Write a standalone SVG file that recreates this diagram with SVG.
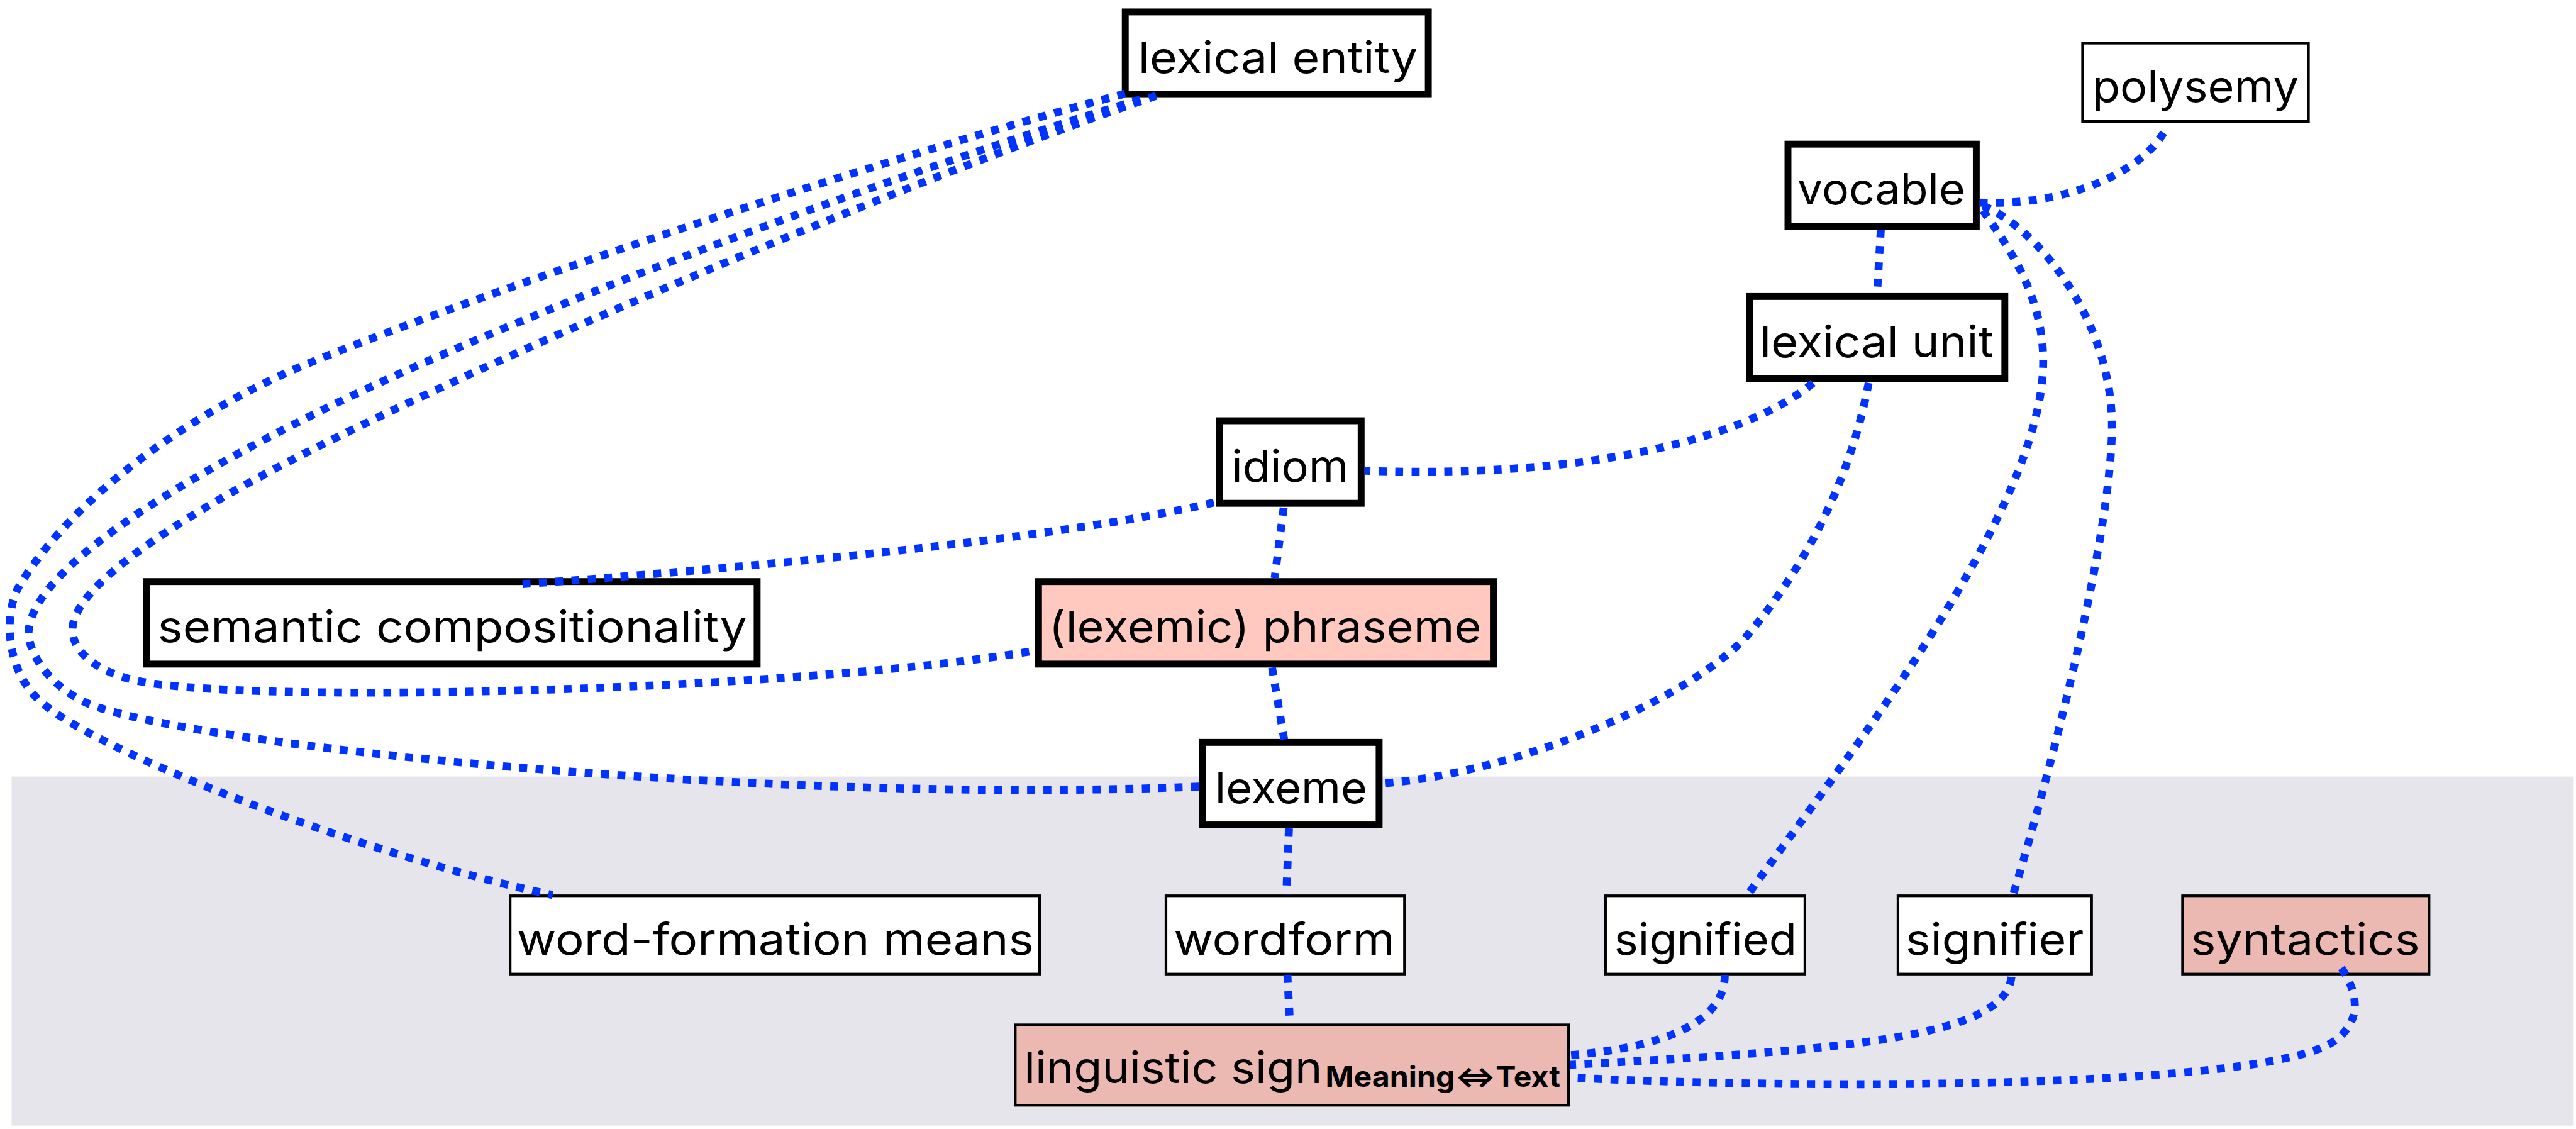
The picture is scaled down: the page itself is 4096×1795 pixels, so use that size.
<svg xmlns="http://www.w3.org/2000/svg" width="4096" height="1795" viewBox="0 0 4096 1795">
  <style>
    .node rect { stroke: #000; }
    .thick rect { stroke-width: 13; }
    .thin rect { stroke-width: 5; }
    .plain rect { fill: #ffffff; }
    .rose rect { fill: #ffc9c0; }
    .dusty rect { fill: #ecb8b2; }
    .node text { font-family: Inter, "Liberation Sans", Arial, sans-serif; font-size: 82px; fill: #000; }
    .mid { text-anchor: middle; }
    text.sub { font-size: 54px; font-weight: bold; }
    #edges path { fill: none; stroke: #0033ff; stroke-width: 15; stroke-dasharray: 15 16; }
  </style>
  <rect width="4096" height="1795" fill="#ffffff"/>
  <g transform="scale(0.841)">
    <!-- shaded lower band -->
    <rect id="band" x="22" y="1468" width="4844" height="660" fill="#e6e5eb"/>

    <!-- nodes -->
    <g id="lexical-entity" class="node thick plain">
      <rect x="2127.5" y="22.5" width="573" height="156"/>
      <text class="mid" x="2416" y="137.5" textLength="528" lengthAdjust="spacingAndGlyphs">lexical entity</text>
    </g>
    <g id="polysemy" class="node thin plain">
      <rect x="3937.5" y="81.5" width="427" height="148"/>
      <text class="mid" x="4151" y="192.5" textLength="390" lengthAdjust="spacingAndGlyphs">polysemy</text>
    </g>
    <g id="vocable" class="node thick plain">
      <rect x="3380.5" y="272.5" width="356" height="155"/>
      <text class="mid" x="3557" y="387" textLength="317" lengthAdjust="spacingAndGlyphs">vocable</text>
    </g>
    <g id="lexical-unit" class="node thick plain">
      <rect x="3308.5" y="560.5" width="482" height="155"/>
      <text class="mid" x="3548" y="675" textLength="442" lengthAdjust="spacingAndGlyphs">lexical unit</text>
    </g>
    <g id="idiom" class="node thick plain">
      <rect x="2305.5" y="795.5" width="268" height="156"/>
      <text class="mid" x="2439" y="910.5" textLength="221" lengthAdjust="spacingAndGlyphs">idiom</text>
    </g>
    <g id="semantic-compositionality" class="node thick plain">
      <rect x="277.5" y="1099.5" width="1154" height="156"/>
      <text class="mid" x="855" y="1214.5" textLength="1114" lengthAdjust="spacingAndGlyphs">semantic compositionality</text>
    </g>
    <g id="phraseme" class="node thick rose">
      <rect x="1963.5" y="1099.5" width="860" height="156"/>
      <text class="mid" x="2392" y="1214.5" textLength="818" lengthAdjust="spacingAndGlyphs">(lexemic) phraseme</text>
    </g>
    <g id="lexeme" class="node thick plain">
      <rect x="2273.5" y="1403.5" width="334" height="156"/>
      <text class="mid" x="2441" y="1518.5" textLength="288" lengthAdjust="spacingAndGlyphs">lexeme</text>
    </g>
    <g id="word-formation-means" class="node thin plain">
      <rect x="964.5" y="1693.5" width="1001" height="148"/>
      <text class="mid" x="1466" y="1804.5" textLength="977" lengthAdjust="spacingAndGlyphs">word-formation means</text>
    </g>
    <g id="wordform" class="node thin plain">
      <rect x="2204.5" y="1693.5" width="451" height="148"/>
      <text class="mid" x="2428" y="1804.5" textLength="418" lengthAdjust="spacingAndGlyphs">wordform</text>
    </g>
    <g id="signified" class="node thin plain">
      <rect x="3035.5" y="1693.5" width="377" height="148"/>
      <text class="mid" x="3224.5" y="1804.5" textLength="345" lengthAdjust="spacingAndGlyphs">signified</text>
    </g>
    <g id="signifier" class="node thin plain">
      <rect x="3588.5" y="1693.5" width="366" height="148"/>
      <text class="mid" x="3771.5" y="1804.5" textLength="337" lengthAdjust="spacingAndGlyphs">signifier</text>
    </g>
    <g id="syntactics" class="node thin dusty">
      <rect x="4126.5" y="1693.5" width="466" height="148"/>
      <text class="mid" x="4358.5" y="1804.5" textLength="433" lengthAdjust="spacingAndGlyphs">syntactics</text>
    </g>
    <g id="linguistic-sign" class="node thin dusty">
      <rect x="1919.5" y="1937.5" width="1046" height="152"/>
      <text x="1936" y="2047" textLength="564" lengthAdjust="spacingAndGlyphs">linguistic sign</text>
      <text class="sub" x="2506" y="2055" textLength="444" lengthAdjust="spacingAndGlyphs">Meaning⇔Text</text>
    </g>

    <!-- connectors -->
    <g id="edges">
      <!-- lexical entity to word-formation means -->
      <path d="M2127,177 C1700,290 1000,520 600,680 C350,780 130,950 35,1110 C8,1160 10,1260 70,1320 C170,1420 700,1620 1045,1692"/>
      <!-- lexical entity to lexeme -->
      <path d="M2156,188 C1750,310 1050,560 620,770 C420,868 60,1060 54,1195 C54,1245 110,1315 191,1339 C450,1420 1500,1520 2267,1487"/>
      <!-- lexical entity to phraseme -->
      <path d="M2186,181 C1780,320 1050,620 600,845 C380,955 137,1100 137,1190 C137,1240 200,1280 287,1292 C577,1332 1557,1300 1957,1230"/>
      <!-- idiom to semantic compositionality -->
      <path d="M2295,950 C2000,1020 1400,1075 977,1105"/>
      <!-- idiom to phraseme -->
      <path d="M2427,960 L2410,1093"/>
      <!-- phraseme to lexeme -->
      <path d="M2405,1262 L2428,1398"/>
      <!-- lexeme to wordform -->
      <path d="M2437,1566 L2432,1691"/>
      <!-- wordform to linguistic sign -->
      <path d="M2434,1843 L2439,1935"/>
      <!-- lexical unit to idiom -->
      <path d="M3428,724 C3300,830 3000,905 2580,890"/>
      <!-- lexical unit to lexeme -->
      <path d="M3533,724 C3500,900 3420,1060 3313,1190 C3220,1310 2880,1460 2615,1481"/>
      <!-- vocable to lexical unit -->
      <path d="M3556,434 L3549,554"/>
      <!-- vocable to polysemy -->
      <path d="M3743,383 C3900,390 4050,330 4096,242"/>
      <!-- vocable to signified -->
      <path d="M3749,398 C3800,470 3862,560 3863,680 C3866,960 3500,1420 3304,1692"/>
      <!-- vocable to signifier -->
      <path d="M3749,389 C3850,430 3990,600 3993,800 C3995,1000 3880,1450 3806,1692"/>
      <!-- signified to linguistic sign -->
      <path d="M3261,1843 C3262,1930 3150,1980 2968,1995"/>
      <!-- signifier to linguistic sign -->
      <path d="M3803,1847 C3790,1960 3500,1985 2968,2013"/>
      <!-- syntactics to linguistic sign -->
      <path d="M4427,1830 C4460,1880 4465,1930 4415,1967 C4290,2060 3400,2060 2968,2037"/>
    </g>
  </g>
</svg>
